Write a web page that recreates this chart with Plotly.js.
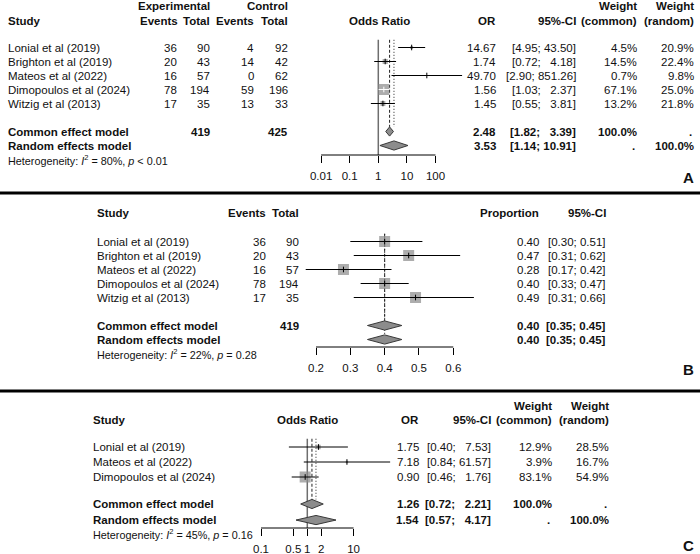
<!DOCTYPE html>
<html><head><meta charset="utf-8">
<script src="https://cdn.plot.ly/plotly-3.0.1.min.js"></script>
<style>html,body{margin:0;padding:0;background:#fff}</style>
</head><body><div id="chart" style="width:700px;height:554px"></div>
<script>
// ================= DATA =================
// Panel A: odds ratios
const studiesA = ["Lonial et al (2019)","Brighton et al (2019)","Mateos et al (2022)","Dimopoulos et al (2024)","Witzig et al (2013)"];
const expEventsA = [36,20,16,78,17];
const expTotalA  = [90,43,57,194,35];
const ctrlEventsA = [4,14,0,59,13];
const ctrlTotalA  = [92,42,62,196,33];
const orA     = [14.67,1.74,49.70,1.56,1.45];
const orLowA  = [4.95,0.72,2.90,1.03,0.55];
const orHighA = [43.50,4.18,851.26,2.37,3.81];
const wCommonA = [4.5,14.5,0.7,67.1,13.2];
const wRandomA = [20.9,22.4,9.8,25.0,21.8];
const commonA = [2.48,1.82,3.39];
const randomA = [3.53,1.14,10.91];
const totalsA = [419,425];
const ticksA = [0.01,0.1,1,10,100];
const tickTextA = ["0.01","0.1","1","10","100"];

// Panel B: proportions
const studiesB = ["Lonial et al (2019)","Brighton et al (2019)","Mateos et al (2022)","Dimopoulos et al (2024)","Witzig et al (2013)"];
const eventsB = [36,20,16,78,17];
const totalB  = [90,43,57,194,35];
const propB     = [0.40,0.47,0.28,0.40,0.49];
const propLowB  = [0.30,0.31,0.17,0.33,0.31];
const propHighB = [0.51,0.62,0.42,0.47,0.66];
const commonB = [0.40,0.35,0.45];
const randomB = [0.40,0.35,0.45];
const totalsB = [419];
const ticksB = [0.2,0.3,0.4,0.5,0.6];
const tickTextB = ["0.2","0.3","0.4","0.5","0.6"];

// Panel C: odds ratios
const studiesC = ["Lonial et al (2019)","Mateos et al (2022)","Dimopoulos et al (2024)"];
const orC     = [1.75,7.18,0.90];
const orLowC  = [0.40,0.84,0.46];
const orHighC = [7.53,61.57,1.76];
const wCommonC = [12.9,3.9,83.1];
const wRandomC = [28.5,16.7,54.9];
const commonC = [1.26,0.72,2.21];
const randomC = [1.54,0.57,4.17];
const ticksC = [0.1,0.5,1,2,10];
const tickTextC = ["0.1","0.5","1","2","10"];

// Heterogeneity statistics (A, B, C)
const hetI2 = [80,22,45];
const hetP  = ["< 0.01","= 0.28","= 0.16"];
const panelLetters = ["A","B","C"];

// ================= STYLE / LAYOUT =================
const W = 700, H = 554;
const FONT = '"Liberation Sans", Arial, Helvetica, sans-serif';
const FS = 11.5, FS_HET = 10.8, FS_LET = 15;
const INK = '#111111', SQ = '#8a8a8a', DIA = '#8c8c8c', DIA_LINE = '#383838', REF = '#6e6e6e';
const MAXSQ = 11;

const cA = {x:'x',  y:'y',  row0:47.5, step:14, top:0,   bottom:193, axisPy:155,
  type:'log', t0:0,   px0:378.3, scale:28.6,   range:[-2.5,3.3], ref:1, sumRows:[6,7], hetRow:8.05};
const cB = {x:'x2', y:'y2', row0:241.5, step:14, top:194, bottom:386, axisPy:347,
  type:'linear', t0:0.2, px0:316, scale:343.25, range:[0.14,0.70], ref:null, sumRows:[6,7], hetRow:8.07};
const cC = {x:'x3', y:'y3', row0:447, step:15, top:392, bottom:554, axisPy:528,
  type:'log', t0:0,   px0:307.3, scale:46.3,   range:[-1.2,1.9], ref:1, sumRows:[3.8,4.87], hetRow:5.8};

[cA,cB,cC].forEach(c => {
  c.tr = v => c.type === 'log' ? Math.log10(v) : v;
  c.px = v => c.px0 + c.scale*(c.tr(v) - c.t0);
  c.pxR = r => c.px0 + c.scale*(r - c.t0);
  c.row = py => (py - c.row0)/c.step;
  c.axisRow = c.row(c.axisPy);
});

const traces = [];
const annotations = [];
const shapes = [];

function T(c, text, px, row, anchor, opts) {
  opts = opts || {};
  annotations.push({
    xref:'paper', yref:c.y, x:px/W, y:row, text:String(text),
    xanchor:anchor, yanchor:'middle', showarrow:false, borderpad:0,
    font:{family:FONT, size:opts.size || FS, color:INK, weight:opts.bold ? 'bold' : 'normal'}
  });
}
function ci(lo, hi, width) {
  let h = hi.toFixed(2);
  let pad = '';
  for (let k = h.length; k < width; k++) pad += '\u00a0\u00a0';
  return '[' + lo.toFixed(2) + ';\u00a0' + pad + h + ']';
}
const pct = v => v.toFixed(1) + '%';
const het = i => 'Heterogeneity: <i>I</i><sup>2</sup> = ' + hetI2[i] + '%, <i>p</i> ' +
  hetP[i].replace('<','&lt;');

function vline(c, v, y0, y1, line) {
  traces.push({type:'scatter', mode:'lines', x:[v,v], y:[y0,y1], xaxis:c.x, yaxis:c.y,
    line:line, hoverinfo:'skip', showlegend:false});
}
function diamond(c, s, r) {
  const h = 4.6/c.step;
  traces.push({type:'scatter', mode:'lines', x:[s[1],s[0],s[2],s[0],s[1]], y:[r,r-h,r,r+h,r],
    xaxis:c.x, yaxis:c.y, fill:'toself', fillcolor:DIA, line:{color:DIA_LINE, width:1},
    hoverinfo:'skip', showlegend:false});
}

function forest(c, est, lo, hi, sizes, common, random, ticks, randEnd) {
  const rows = est.map((_, i) => i);
  const topRow = -0.55;
  const dh = 4.6/c.step;
  if (c.ref !== null) vline(c, c.ref, topRow, c.axisRow, {color:REF, width:1.5});
  vline(c, common[0], topRow, c.sumRows[0]-dh, {color:'#222', width:1, dash:'3px,2px'});
  vline(c, random[0], topRow, randEnd, {color:'#222', width:1, dash:'1px,2px'});
  // squares
  traces.push({type:'scatter', mode:'markers', x:est, y:rows, xaxis:c.x, yaxis:c.y,
    marker:{symbol:'square', size:sizes, color:SQ, line:{width:0}}, hoverinfo:'skip', showlegend:false});
  // CI lines
  const bx = [], by = [], wx = [], wy = [], bex = [], bey = [], wex = [], wey = [];
  est.forEach((e, i) => {
    const inside = (c.px(hi[i]) - c.px(lo[i])) < sizes[i];
    if (inside) { wx.push(lo[i], hi[i], null); wy.push(i, i, null); wex.push(e); wey.push(i); }
    else { bx.push(lo[i], hi[i], null); by.push(i, i, null); bex.push(e); bey.push(i); }
  });
  traces.push({type:'scatter', mode:'lines', x:bx, y:by, xaxis:c.x, yaxis:c.y,
    line:{color:'#000', width:1}, hoverinfo:'skip', showlegend:false, connectgaps:false});
  if (wx.length) traces.push({type:'scatter', mode:'lines', x:wx, y:wy, xaxis:c.x, yaxis:c.y,
    line:{color:'#fff', width:1}, hoverinfo:'skip', showlegend:false, connectgaps:false});
  traces.push({type:'scatter', mode:'markers', x:bex, y:bey, xaxis:c.x, yaxis:c.y,
    marker:{symbol:'line-ns-open', size:4, color:'#000', line:{color:'#000', width:1}}, hoverinfo:'skip', showlegend:false});
  if (wex.length) traces.push({type:'scatter', mode:'markers', x:wex, y:wey, xaxis:c.x, yaxis:c.y,
    marker:{symbol:'line-ns-open', size:4, color:'#fff', line:{color:'#fff', width:1}}, hoverinfo:'skip', showlegend:false});
  diamond(c, common, c.sumRows[0]);
  diamond(c, random, c.sumRows[1]);
  // axis baseline
  traces.push({type:'scatter', mode:'lines', x:[ticks[0], ticks[ticks.length-1]], y:[c.axisRow, c.axisRow],
    xaxis:c.x, yaxis:c.y, line:{color:'#000', width:1}, hoverinfo:'skip', showlegend:false});
}

// ---------- Panel A ----------
{
  const c = cA;
  const wmax = Math.max(...wCommonA);
  const sizes = wCommonA.map(w => MAXSQ*Math.sqrt(w/wmax));
  forest(c, orA, orLowA, orHighA, sizes, commonA, randomA, ticksA, c.sumRows[0]-4.6/c.step);
  const h1 = c.row(6), h2 = c.row(20.5);
  T(c,'Experimental',211,h1,'right',{bold:true});
  T(c,'Control',289,h1,'right',{bold:true});
  T(c,'Weight',638,h1,'right',{bold:true});
  T(c,'Weight',695,h1,'right',{bold:true});
  T(c,'Study',7,h2,'left',{bold:true});
  T(c,'Events',179,h2,'right',{bold:true});
  T(c,'Total',211,h2,'right',{bold:true});
  T(c,'Events',255,h2,'right',{bold:true});
  T(c,'Total',289,h2,'right',{bold:true});
  T(c,'Odds Ratio',379,h2,'center',{bold:true});
  T(c,'OR',497,h2,'right',{bold:true});
  T(c,'95%-CI',577,h2,'right',{bold:true});
  T(c,'(common)',638,h2,'right',{bold:true});
  T(c,'(random)',695,h2,'right',{bold:true});
  studiesA.forEach((s,i) => {
    T(c,s,7,i,'left');
    T(c,expEventsA[i],178,i,'right');
    T(c,expTotalA[i],211,i,'right');
    T(c,ctrlEventsA[i],255,i,'right');
    T(c,ctrlTotalA[i],289,i,'right');
    T(c,orA[i].toFixed(2),497,i,'right');
    T(c,ci(orLowA[i],orHighA[i],5),577,i,'right');
    T(c,pct(wCommonA[i]),638,i,'right');
    T(c,pct(wRandomA[i]),695,i,'right');
  });
  const r1 = c.sumRows[0], r2 = c.sumRows[1];
  T(c,'Common effect model',7,r1,'left',{bold:true});
  T(c,totalsA[0],211,r1,'right',{bold:true});
  T(c,totalsA[1],289,r1,'right',{bold:true});
  T(c,commonA[0].toFixed(2),497,r1,'right',{bold:true});
  T(c,ci(commonA[1],commonA[2],5),577,r1,'right',{bold:true});
  T(c,'100.0%',638,r1,'right',{bold:true});
  T(c,'.',693,r1,'right',{bold:true});
  T(c,'Random effects model',7,r2,'left',{bold:true});
  T(c,randomA[0].toFixed(2),497,r2,'right',{bold:true});
  T(c,ci(randomA[1],randomA[2],5),577,r2,'right',{bold:true});
  T(c,'.',636,r2,'right',{bold:true});
  T(c,'100.0%',695,r2,'right',{bold:true});
  T(c,het(0),7,c.hetRow,'left',{size:FS_HET});
  T(c,panelLetters[0],695,c.row(177),'right',{bold:true,size:FS_LET});
}

// ---------- Panel B ----------
{
  const c = cB;
  const sizes = propB.map(() => MAXSQ);
  forest(c, propB, propLowB, propHighB, sizes, commonB, randomB, ticksB, c.sumRows[1]-4.6/c.step);
  const h = c.row(213);
  T(c,'Study',96,h,'left',{bold:true});
  T(c,'Events',267,h,'right',{bold:true});
  T(c,'Total',300,h,'right',{bold:true});
  T(c,'Proportion',540,h,'right',{bold:true});
  T(c,'95%-CI',607,h,'right',{bold:true});
  studiesB.forEach((s,i) => {
    T(c,s,96,i,'left');
    T(c,eventsB[i],267,i,'right');
    T(c,totalB[i],300,i,'right');
    T(c,propB[i].toFixed(2),540,i,'right');
    T(c,ci(propLowB[i],propHighB[i],4),607,i,'right');
  });
  const r1 = c.sumRows[0], r2 = c.sumRows[1];
  T(c,'Common effect model',96,r1,'left',{bold:true});
  T(c,totalsB[0],300,r1,'right',{bold:true});
  T(c,commonB[0].toFixed(2),540,r1,'right',{bold:true});
  T(c,ci(commonB[1],commonB[2],4),607,r1,'right',{bold:true});
  T(c,'Random effects model',96,r2,'left',{bold:true});
  T(c,randomB[0].toFixed(2),540,r2,'right',{bold:true});
  T(c,ci(randomB[1],randomB[2],4),607,r2,'right',{bold:true});
  T(c,het(1),96,c.hetRow,'left',{size:FS_HET});
  T(c,panelLetters[1],695,c.row(369),'right',{bold:true,size:FS_LET});
}

// ---------- Panel C ----------
{
  const c = cC;
  const wmax = Math.max(...wCommonC);
  const sizes = wCommonC.map(w => MAXSQ*Math.sqrt(w/wmax));
  forest(c, orC, orLowC, orHighC, sizes, commonC, randomC, ticksC, c.sumRows[0]-4.6/c.step);
  const h1 = c.row(406), h2 = c.row(420);
  T(c,'Weight',553,h1,'right',{bold:true});
  T(c,'Weight',610,h1,'right',{bold:true});
  T(c,'Study',92,h2,'left',{bold:true});
  T(c,'Odds Ratio',307,h2,'center',{bold:true});
  T(c,'OR',420,h2,'right',{bold:true});
  T(c,'95%-CI',492,h2,'right',{bold:true});
  T(c,'(common)',553,h2,'right',{bold:true});
  T(c,'(random)',610,h2,'right',{bold:true});
  studiesC.forEach((s,i) => {
    T(c,s,92,i,'left');
    T(c,orC[i].toFixed(2),420,i,'right');
    T(c,ci(orLowC[i],orHighC[i],5),492,i,'right');
    T(c,pct(wCommonC[i]),553,i,'right');
    T(c,pct(wRandomC[i]),610,i,'right');
  });
  const r1 = c.sumRows[0], r2 = c.sumRows[1];
  T(c,'Common effect model',92,r1,'left',{bold:true});
  T(c,commonC[0].toFixed(2),420,r1,'right',{bold:true});
  T(c,ci(commonC[1],commonC[2],5),492,r1,'right',{bold:true});
  T(c,'100.0%',553,r1,'right',{bold:true});
  T(c,'.',608,r1,'right',{bold:true});
  T(c,'Random effects model',92,r2,'left',{bold:true});
  T(c,randomC[0].toFixed(2),420,r2,'right',{bold:true});
  T(c,ci(randomC[1],randomC[2],5),492,r2,'right',{bold:true});
  T(c,'.',551,r2,'right',{bold:true});
  T(c,'100.0%',610,r2,'right',{bold:true});
  T(c,het(2),92,c.hetRow,'left',{size:FS_HET});
  T(c,panelLetters[2],695,c.row(545),'right',{bold:true,size:FS_LET});
}

// separators
[193, 391].forEach(py => shapes.push({type:'line', xref:'paper', yref:'paper',
  x0:0, x1:1, y0:1-py/H, y1:1-py/H, line:{color:'#000', width:3}}));

function xaxis(c, tv, tt) {
  return {
    type:c.type, range:c.range, domain:[c.pxR(c.range[0])/W, c.pxR(c.range[1])/W],
    anchor:'free', position:1 - c.axisPy/H,
    tickmode:'array', tickvals:tv, ticktext:tt, ticks:'outside', ticklen:7, tickwidth:1, tickcolor:'#000',
    ticklabelstandoff:3,
    showline:false, showgrid:false, zeroline:false, fixedrange:true,
    tickfont:{family:FONT, size:FS, color:INK}
  };
}
function yaxis(c, anchor) {
  return {
    domain:[1 - c.bottom/H, 1 - c.top/H], range:[c.row(c.bottom), c.row(c.top)],
    anchor:anchor, visible:false, showgrid:false, zeroline:false, fixedrange:true
  };
}

const layout = {
  width:W, height:H, margin:{l:0,r:0,t:0,b:0},
  paper_bgcolor:'#fff', plot_bgcolor:'rgba(0,0,0,0)', showlegend:false,
  font:{family:FONT, size:FS, color:INK},
  xaxis:xaxis(cA, ticksA, tickTextA),
  xaxis2:xaxis(cB, ticksB, tickTextB),
  xaxis3:xaxis(cC, ticksC, tickTextC),
  yaxis:yaxis(cA,'x'), yaxis2:yaxis(cB,'x2'), yaxis3:yaxis(cC,'x3'),
  annotations:annotations, shapes:shapes
};

Plotly.newPlot('chart', traces, layout, {staticPlot:true, displayModeBar:false});
</script></body></html>
